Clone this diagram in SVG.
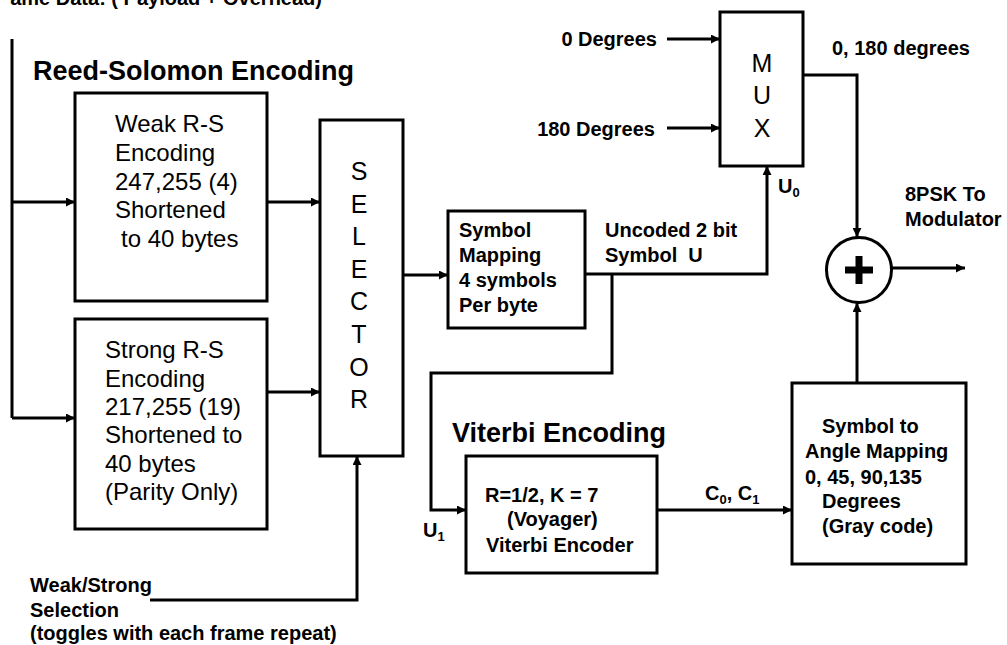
<svg xmlns="http://www.w3.org/2000/svg" width="1007" height="645" viewBox="0 0 1007 645">
<defs>
<style>
.box{fill:#fff;stroke:#000;stroke-width:3}
.ln{fill:none;stroke:#000;stroke-width:3}
.arr{marker-end:url(#ah)}
.t{font-family:"Liberation Sans",Arial,sans-serif;fill:#000}
.b{font-weight:bold;font-size:20px}
.n24{font-size:24px}
.h{font-weight:bold;font-size:27px}
.sel{font-size:25px;text-anchor:middle}
.pre{white-space:pre}
</style>
<marker id="ah" viewBox="0 0 10 10" refX="10" refY="5" markerWidth="11" markerHeight="9" markerUnits="userSpaceOnUse" orient="auto">
<path d="M0,0 L10,5 L0,10 z" fill="#000"/>
</marker>
</defs>
<rect width="1007" height="645" fill="#fff"/>

<text class="t b" x="322" y="5" text-anchor="end">ame Data: ( Payload + Overhead)</text>
<text class="t h" x="33" y="80">Reed-Solomon Encoding</text>
<text class="t h" x="452" y="442">Viterbi Encoding</text>

<g id="connectors">
<path class="ln" d="M12,39 V418"/>
<path class="ln arr" d="M12,202 H75"/>
<path class="ln arr" d="M12,418 H75"/>
<path class="ln arr" d="M267,202 H320"/>
<path class="ln arr" d="M267,392 H320"/>
<path class="ln arr" d="M150,600 H357 V456"/>
<path class="ln arr" d="M403,275 H448"/>
<path class="ln arr" d="M585,274 H767 V166"/>
<path class="ln arr" d="M612,274 V373 H431 V510 H466"/>
<path class="ln arr" d="M667,39 H720"/>
<path class="ln arr" d="M667,128 H720"/>
<path class="ln arr" d="M803,75 H857 V237"/>
<path class="ln arr" d="M657,510 H792"/>
<path class="ln arr" d="M857,382 V303"/>
<path class="ln arr" d="M892,268 H965"/>
</g>

<g id="weak-rs">
<rect class="box" x="75" y="93" width="192" height="208"/>
<text class="t n24" x="115" y="132">Weak R-S</text>
<text class="t n24" x="115" y="161">Encoding</text>
<text class="t n24" x="115" y="190">247,255 (4)</text>
<text class="t n24" x="115" y="218">Shortened</text>
<text class="t n24" x="121" y="247">to 40 bytes</text>
</g>

<g id="strong-rs">
<rect class="box" x="75" y="319" width="192" height="210"/>
<text class="t n24" x="105" y="358">Strong R-S</text>
<text class="t n24" x="105" y="387">Encoding</text>
<text class="t n24" x="105" y="415">217,255 (19)</text>
<text class="t n24" x="105" y="443">Shortened to</text>
<text class="t n24" x="105" y="472">40 bytes</text>
<text class="t n24" x="105" y="500">(Parity Only)</text>
</g>

<g id="selector">
<rect class="box" x="320" y="120" width="83" height="336"/>
<text class="t sel" x="359" y="180">S</text>
<text class="t sel" x="359" y="212.6">E</text>
<text class="t sel" x="359" y="245">L</text>
<text class="t sel" x="359" y="277.8">E</text>
<text class="t sel" x="359" y="310.4">C</text>
<text class="t sel" x="359" y="343">T</text>
<text class="t sel" x="359" y="375.6">O</text>
<text class="t sel" x="359" y="408">R</text>
</g>

<g id="weak-strong-label">
<text class="t b" x="30" y="592">Weak/Strong</text>
<text class="t b" x="30" y="617">Selection</text>
<text class="t b" x="30" y="640">(toggles with each frame repeat)</text>
</g>

<g id="symbol-mapping">
<rect class="box" x="448" y="211" width="137" height="117"/>
<text class="t b" x="459" y="237">Symbol</text>
<text class="t b" x="459" y="262">Mapping</text>
<text class="t b" x="459" y="287">4 symbols</text>
<text class="t b" x="459" y="312">Per byte</text>
</g>

<g id="uncoded-label">
<text class="t b" x="605" y="237">Uncoded 2 bit</text>
<text class="t b pre" x="605" y="262">Symbol  U</text>
</g>

<g id="mux">
<rect class="box" x="720" y="12" width="83" height="154"/>
<text class="t sel" x="762" y="72">M</text>
<text class="t sel" x="762" y="104">U</text>
<text class="t sel" x="762" y="137">X</text>
</g>

<g id="mux-labels">
<text class="t b" x="657" y="46" text-anchor="end">0 Degrees</text>
<text class="t b" x="655" y="136" text-anchor="end">180 Degrees</text>
<text class="t b" x="778" y="193">U<tspan font-size="13" dy="4">0</tspan></text>
<text class="t b" x="832" y="55">0, 180 degrees</text>
</g>

<g id="viterbi">
<rect class="box" x="466" y="456" width="191" height="117"/>
<text class="t b" x="485" y="502">R=1/2, K = 7</text>
<text class="t b" x="507" y="526">(Voyager)</text>
<text class="t b" x="486" y="552">Viterbi Encoder</text>
</g>

<g id="viterbi-labels">
<text class="t b" x="423" y="537">U<tspan font-size="13" dy="4">1</tspan></text>
<text class="t b" x="705" y="500">C<tspan font-size="13" dy="4">0</tspan><tspan dy="-4">, C</tspan><tspan font-size="13" dy="4">1</tspan></text>
</g>

<g id="angle-mapping">
<rect class="box" x="792" y="383" width="174" height="181"/>
<text class="t b" x="822" y="433">Symbol to</text>
<text class="t b" x="805" y="458">Angle Mapping</text>
<text class="t b" x="805" y="484">0, 45, 90,135</text>
<text class="t b" x="822" y="508">Degrees</text>
<text class="t b" x="822" y="533">(Gray code)</text>
</g>

<g id="adder">
<circle cx="859" cy="270" r="32.5" fill="#fff" stroke="#000" stroke-width="3"/>
<rect x="845" y="266.5" width="28" height="7" fill="#000"/>
<rect x="855.5" y="256" width="7" height="28" fill="#000"/>
</g>

<g id="output-label">
<text class="t b" x="905" y="201">8PSK To</text>
<text class="t b" x="905" y="226">Modulator</text>
</g>
</svg>
